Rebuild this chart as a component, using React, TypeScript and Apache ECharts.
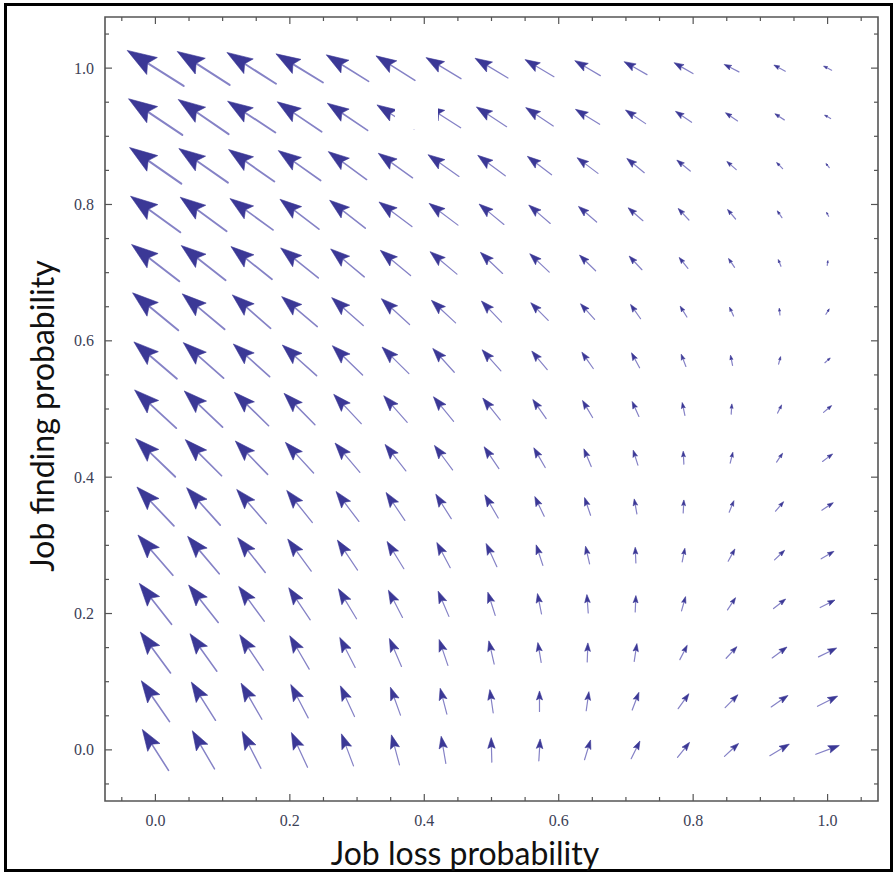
import React, { useEffect, useRef } from "react";
import * as echarts from "echarts";

// grid positions of the arrows (job loss probability, job finding probability)
const X_POINTS = [0, 0.0714, 0.1429, 0.2143, 0.2857, 0.3571, 0.4286, 0.5, 0.5714, 0.6429, 0.7143, 0.7857, 0.8571, 0.9286, 1.0];
const Y_POINTS = [0, 0.0714, 0.1429, 0.2143, 0.2857, 0.3571, 0.4286, 0.5, 0.5714, 0.6429, 0.7143, 0.7857, 0.8571, 0.9286, 1.0];

// arrow components, in thousandths of an axis unit; one row per Y_POINTS entry (bottom to top)
const U_MILLI = [
  [-39, -33, -28, -24, -18, -12, -7, -1, 2, 9, 13, 18, 21, 29, 35],
  [-42, -36, -31, -26, -21, -15, -10, -5, 0, 4, 10, 16, 19, 25, 30],
  [-45, -40, -35, -29, -23, -18, -13, -8, -5, 1, 4, 11, 16, 22, 27],
  [-48, -44, -38, -32, -27, -21, -16, -11, -6, -2, 1, 6, 12, 18, 22],
  [-52, -47, -41, -35, -30, -25, -20, -16, -10, -6, -1, 4, 10, 15, 19],
  [-55, -50, -44, -38, -34, -28, -23, -20, -14, -9, -4, 1, 7, 12, 17],
  [-59, -54, -48, -42, -37, -31, -27, -22, -17, -11, -7, -1, 4, 9, 15],
  [-62, -57, -51, -46, -41, -35, -30, -26, -20, -15, -10, -4, 1, 6, 12],
  [-64, -60, -54, -51, -45, -40, -32, -28, -23, -17, -12, -7, -3, 3, 8],
  [-68, -63, -57, -53, -47, -42, -36, -30, -26, -21, -15, -10, -6, -1, 5],
  [-71, -66, -61, -56, -50, -45, -40, -33, -29, -24, -19, -13, -9, -4, 1],
  [-74, -69, -64, -58, -53, -49, -43, -37, -32, -27, -22, -16, -12, -7, -3],
  [-77, -73, -68, -63, -57, -51, -46, -41, -36, -31, -26, -20, -14, -9, -5],
  [-80, -75, -71, -66, -60, -55, -51, -45, -41, -36, -30, -24, -18, -14, -9],
  [-84, -78, -73, -70, -63, -58, -52, -49, -43, -38, -34, -28, -22, -17, -12],
];
const V_MILLI = [
  [60, 56, 54, 51, 47, 44, 40, 36, 32, 29, 26, 22, 19, 17, 13],
  [60, 56, 53, 49, 45, 41, 38, 34, 30, 28, 26, 22, 19, 17, 15],
  [60, 55, 52, 49, 44, 41, 38, 34, 29, 28, 26, 21, 17, 16, 13],
  [60, 55, 51, 47, 44, 40, 37, 34, 30, 27, 24, 21, 18, 14, 11],
  [59, 55, 51, 47, 44, 40, 37, 34, 30, 26, 23, 20, 18, 14, 11],
  [57, 55, 50, 47, 44, 41, 36, 34, 29, 26, 22, 19, 17, 14, 11],
  [56, 53, 49, 45, 43, 39, 36, 32, 29, 26, 22, 19, 16, 13, 11],
  [56, 53, 49, 46, 43, 39, 36, 32, 28, 25, 22, 19, 15, 12, 10],
  [54, 52, 48, 45, 43, 39, 35, 31, 27, 24, 22, 18, 15, 11, 7],
  [55, 52, 49, 44, 41, 38, 33, 31, 26, 23, 21, 16, 13, 10, 8],
  [54, 51, 48, 44, 41, 37, 33, 31, 27, 23, 20, 16, 13, 10, 7],
  [53, 50, 46, 44, 41, 36, 32, 30, 27, 23, 19, 17, 14, 10, 6],
  [53, 50, 47, 44, 41, 36, 32, 30, 27, 23, 21, 16, 12, 9, 6],
  [53, 51, 46, 44, 40, 35, 32, 29, 27, 22, 20, 16, 12, 9, 5],
  [52, 49, 46, 42, 39, 36, 31, 29, 25, 22, 19, 16, 11, 9, 6],
];

const AXIS_MIN = -0.075;
const AXIS_MAX = 1.075;
const LABEL_TICKS = [0, 0.2, 0.4, 0.6, 0.8, 1.0];
const MAJOR_TICKS = [0, 0.2, 0.4, 0.6, 0.8, 1.0];
const MINOR_TICKS = [-0.05, 0.05, 0.1, 0.15, 0.25, 0.3, 0.35, 0.45, 0.5, 0.55, 0.65, 0.7, 0.75, 0.85, 0.9, 0.95, 1.05];

const X_TITLE = "Job loss probability";
const Y_TITLE = "Job finding probability";

const HEAD_COLOR = "#3b3896";
const SHAFT_COLOR = "#8582c6";
const FRAME_COLOR = "#555555";

export default function App() {
  const ref = useRef<HTMLDivElement>(null);

  useEffect(() => {
    if (!ref.current) return;
    const chart = echarts.init(ref.current, undefined, { renderer: "svg" });

    const arrowData: number[][] = [];
    Y_POINTS.forEach((y, j) => {
      X_POINTS.forEach((x, i) => {
        arrowData.push([x, y, U_MILLI[j][i] / 1000, V_MILLI[j][i] / 1000]);
      });
    });

    const tickData = [
      ...MAJOR_TICKS.map((t) => [t, 1]),
      ...MINOR_TICKS.map((t) => [t, 0]),
    ];

    const renderArrow = (params: any, api: any) => {
      const x = api.value(0);
      const y = api.value(1);
      const u = api.value(2);
      const v = api.value(3);
      const tail = api.coord([x - u / 2, y - v / 2]);
      const tip = api.coord([x + u / 2, y + v / 2]);
      const dx = tip[0] - tail[0];
      const dy = tip[1] - tail[1];
      const L = Math.hypot(dx, dy);
      if (L < 0.5) return { type: "group", children: [] };
      const ux = dx / L;
      const uy = dy / L;
      const px = -uy;
      const py = ux;
      const hl = 0.44 * L;
      const hw = 0.15 * L;
      const bx = tip[0] - ux * hl;
      const by = tip[1] - uy * hl;
      const nx = tip[0] - ux * hl * 0.82;
      const ny = tip[1] - uy * hl * 0.82;
      const lw = Math.max(1.2, Math.min(2.1, L * 0.033));
      return {
        type: "group",
        children: [
          {
            type: "line",
            shape: { x1: tail[0], y1: tail[1], x2: nx, y2: ny },
            style: { stroke: SHAFT_COLOR, lineWidth: lw, lineCap: "round" },
          },
          {
            type: "polygon",
            shape: {
              points: [
                [tip[0], tip[1]],
                [bx + px * hw, by + py * hw],
                [nx, ny],
                [bx - px * hw, by - py * hw],
              ],
            },
            style: { fill: HEAD_COLOR, stroke: HEAD_COLOR, lineWidth: 0.6, lineJoin: "round" },
          },
        ],
      };
    };

    const renderXTick = (params: any, api: any) => {
      const t = api.value(0);
      const len = api.value(1) === 1 ? 7 : 4;
      const b = api.coord([t, AXIS_MIN]);
      const tp = api.coord([t, AXIS_MAX]);
      const style = { stroke: FRAME_COLOR, lineWidth: 1.2 };
      return {
        type: "group",
        children: [
          { type: "line", shape: { x1: b[0], y1: b[1], x2: b[0], y2: b[1] - len }, style },
          { type: "line", shape: { x1: tp[0], y1: tp[1], x2: tp[0], y2: tp[1] + len }, style },
        ],
      };
    };

    const renderYTick = (params: any, api: any) => {
      const t = api.value(0);
      const len = api.value(1) === 1 ? 7 : 4;
      const l = api.coord([AXIS_MIN, t]);
      const r = api.coord([AXIS_MAX, t]);
      const style = { stroke: FRAME_COLOR, lineWidth: 1.2 };
      return {
        type: "group",
        children: [
          { type: "line", shape: { x1: l[0], y1: l[1], x2: l[0] + len, y2: l[1] }, style },
          { type: "line", shape: { x1: r[0], y1: r[1], x2: r[0] - len, y2: r[1] }, style },
        ],
      };
    };

    const labelStyle = {
      fontFamily: "Liberation Serif",
      fontSize: 16,
      lineHeight: 14,
      color: "#3c4156",
      formatter: (v: number) => v.toFixed(1),
      customValues: LABEL_TICKS,
    };

    chart.setOption({
      animation: false,
      backgroundColor: "#ffffff",
      grid: {
        left: 105,
        top: 17,
        width: 773,
        height: 784,
        show: true,
        borderColor: FRAME_COLOR,
        borderWidth: 1.6,
        backgroundColor: "transparent",
      },
      xAxis: {
        type: "value",
        min: AXIS_MIN,
        max: AXIS_MAX,
        axisLine: { show: false },
        axisTick: { show: false },
        splitLine: { show: false },
        axisLabel: { ...labelStyle, margin: 12 },
      },
      yAxis: {
        type: "value",
        min: AXIS_MIN,
        max: AXIS_MAX,
        axisLine: { show: false },
        axisTick: { show: false },
        splitLine: { show: false },
        axisLabel: { ...labelStyle, margin: 11 },
      },
      series: [
        {
          type: "custom",
          name: "ticks-x",
          renderItem: renderXTick,
          data: tickData,
          encode: { x: 0 },
          silent: true,
          clip: false,
          z: 3,
        },
        {
          type: "custom",
          name: "ticks-y",
          renderItem: renderYTick,
          data: tickData,
          encode: { y: 0 },
          silent: true,
          clip: false,
          z: 3,
        },
        {
          type: "custom",
          name: "field",
          renderItem: renderArrow,
          data: arrowData,
          encode: { x: 0, y: 1 },
          silent: true,
          clip: false,
          z: 4,
        },
      ],
      graphic: [
        {
          type: "rect",
          z: 100,
          shape: { x: 395, y: 99, width: 43, height: 30 },
          style: { fill: "#ffffff" },
        },
        {
          type: "rect",
          z: 100,
          shape: { x: 5.5, y: 4.5, width: 886, height: 866 },
          style: { fill: "none", stroke: "#000000", lineWidth: 3 },
        },
        {
          type: "text",
          z: 100,
          x: 465,
          y: 852,
          style: {
            text: X_TITLE,
            fontFamily: "Lato",
            fontSize: 32,
            lineHeight: 28,
            fill: "#111111",
            textAlign: "center",
            textVerticalAlign: "middle",
          },
        },
        {
          type: "text",
          z: 100,
          x: 41,
          y: 416,
          rotation: Math.PI / 2,
          style: {
            text: Y_TITLE,
            fontFamily: "Lato",
            fontSize: 32,
            lineHeight: 30,
            fill: "#111111",
            textAlign: "center",
            textVerticalAlign: "middle",
          },
        },
      ],
    });

    return () => chart.dispose();
  }, []);

  return (
    <div
      ref={ref}
      style={{ position: "absolute", left: 0, top: 0, width: 896, height: 874, background: "#fff" }}
    />
  );
}
